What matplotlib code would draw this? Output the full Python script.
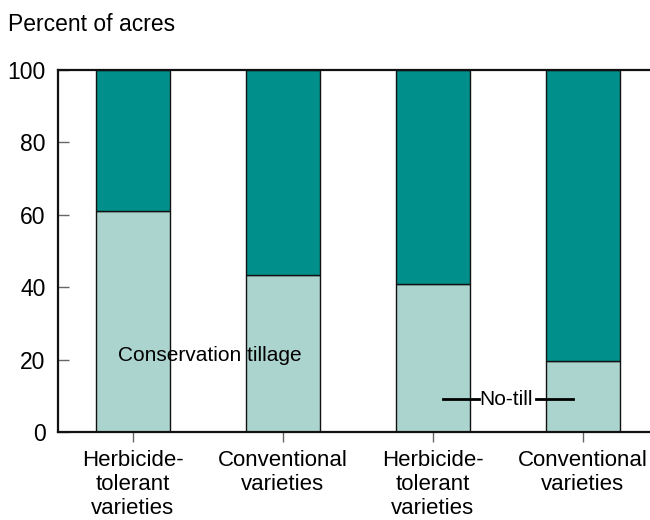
import matplotlib
matplotlib.use("Agg")
import matplotlib.pyplot as plt

plt.rcParams['font.family'] = ['Liberation Sans', 'DejaVu Sans']

# ---------------- DATA ----------------
categories = ["Herbicide-\ntolerant\nvarieties", "Conventional\nvarieties",
              "Herbicide-\ntolerant\nvarieties", "Conventional\nvarieties"]
lower_vals = [61, 43.4, 41, 19.6]       # light part of each bar
total = 100
upper_vals = [total - v for v in lower_vals]
y_ticks = [0, 20, 40, 60, 80, 100]

light = "#acd4cf"
dark = "#008f8a"

# ---------------- FIGURE ----------------
fig = plt.figure(figsize=(6.5, 5.2), dpi=100)
ax = fig.add_axes([0.0892, 0.1692, 0.9108, 0.6962])

x = list(range(len(categories)))
ax.bar(x, lower_vals, width=0.49, color=light, edgecolor="#111111", linewidth=1)
ax.bar(x, upper_vals, bottom=lower_vals, width=0.49, color=dark,
       edgecolor="#111111", linewidth=1)

ax.set_xlim(-0.5, 3.447)
ax.set_ylim(0, 100)
ax.set_yticks(y_ticks)
ax.set_xticks(x)
ax.set_xticklabels(categories, fontsize=16, linespacing=1.17)
ax.tick_params(axis="y", direction="in", length=8, width=1, color="#666666",
               labelsize=16.5, pad=9)
ax.tick_params(axis="x", direction="out", length=7, width=1, color="#666666",
               pad=6)

for side in ["left", "bottom", "top"]:
    ax.spines[side].set_linewidth(1.6)
    ax.spines[side].set_color("#111111")
ax.spines["right"].set_visible(False)

# ---------------- ANNOTATIONS ----------------
fig.text(0.012, 0.94, "Percent of acres", fontsize=16.5, va="baseline", ha="left")
ax.text(0.513, 21, "Conservation tillage", fontsize=15, ha="center", va="center")
ax.text(2.49, 9.1, "No-till", fontsize=15, ha="center", va="center")
ax.plot([2.067, 2.31], [9.1, 9.1], color="black", linewidth=2)
ax.plot([2.69, 2.933], [9.1, 9.1], color="black", linewidth=2)

fig.savefig("out.png", dpi=100)
